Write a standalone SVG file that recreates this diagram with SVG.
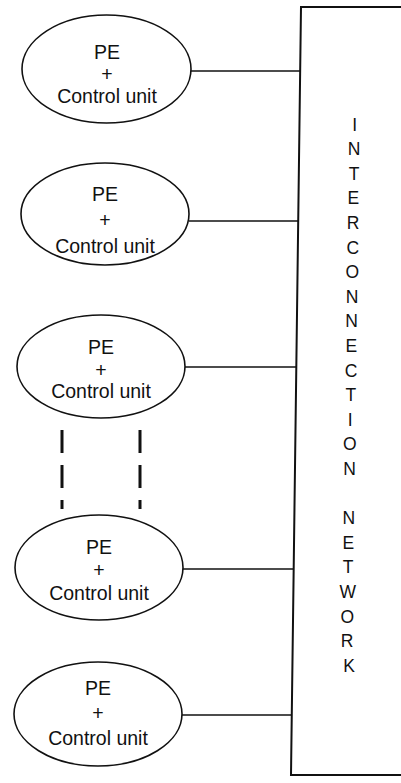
<svg xmlns="http://www.w3.org/2000/svg" width="401" height="783" viewBox="0 0 401 783">
  <style>
    .node ellipse { fill: #ffffff; stroke: #111111; stroke-width: 1.6; }
    .node text { font-family: "Liberation Sans", Arial, sans-serif; font-size: 19.5px; fill: #111111; text-anchor: middle; }
    .link { stroke: #111111; stroke-width: 1.6; fill: none; }
    .dash { stroke: #111111; stroke-width: 3; fill: none; stroke-dasharray: 23 12; }
    .net { fill: #ffffff; stroke: #111111; stroke-width: 2; }
    .netlabel { font-family: "Liberation Sans", Arial, sans-serif; font-size: 17.5px; fill: #111111; text-anchor: middle; }
  </style>
  <rect width="401" height="783" fill="#ffffff"/>

  <!-- interconnection network block (open to the right edge) -->
  <g id="network">
    <path class="net" d="M 403 7 L 301 7 L 291 775 L 403 775"/>
    <text class="netlabel">
      <tspan x="357" y="130.5">I</tspan>
      <tspan x="356.6" y="155.1">N</tspan>
      <tspan x="356.3" y="179.7">T</tspan>
      <tspan x="355.9" y="204.3">E</tspan>
      <tspan x="355.5" y="228.9">R</tspan>
      <tspan x="355.2" y="253.5">C</tspan>
      <tspan x="354.8" y="278.1">O</tspan>
      <tspan x="354.5" y="302.7">N</tspan>
      <tspan x="354.1" y="327.3">N</tspan>
      <tspan x="353.7" y="351.9">E</tspan>
      <tspan x="353.4" y="376.5">C</tspan>
      <tspan x="353" y="401.1">T</tspan>
      <tspan x="352.6" y="425.7">I</tspan>
      <tspan x="352.3" y="450.3">O</tspan>
      <tspan x="351.9" y="474.9">N</tspan>
      <tspan x="351.2" y="524.1">N</tspan>
      <tspan x="350.8" y="548.7">E</tspan>
      <tspan x="350.4" y="573.3">T</tspan>
      <tspan x="350.1" y="597.9">W</tspan>
      <tspan x="349.7" y="622.5">O</tspan>
      <tspan x="349.4" y="647.1">R</tspan>
      <tspan x="349" y="671.7">K</tspan>
    </text>
  </g>

  <!-- connectors from each unit to the network -->
  <g id="connectors">
    <line class="link" x1="191" y1="71" x2="300.2" y2="71"/>
    <line class="link" x1="189" y1="221" x2="298.2" y2="221"/>
    <line class="link" x1="185" y1="367" x2="296.3" y2="367"/>
    <line class="link" x1="183" y1="569" x2="293.7" y2="569"/>
    <line class="link" x1="182" y1="715" x2="291.8" y2="715"/>
    <!-- continuation marks between units -->
    <line class="dash" x1="62" y1="430" x2="62" y2="509"/>
    <line class="dash" x1="140" y1="430" x2="140" y2="509"/>
  </g>

  <g id="unit1" class="node">
    <ellipse cx="106.5" cy="69" rx="84.5" ry="54"/>
    <text x="107" y="59">PE</text>
    <text x="107" y="81">+</text>
    <text x="107" y="103">Control unit</text>
  </g>

  <g id="unit2" class="node">
    <ellipse cx="105" cy="214" rx="84" ry="51"/>
    <text x="105" y="201">PE</text>
    <text x="105" y="227">+</text>
    <text x="105" y="253">Control unit</text>
  </g>

  <g id="unit3" class="node">
    <ellipse cx="101" cy="366.5" rx="84" ry="51.5"/>
    <text x="101" y="354">PE</text>
    <text x="101" y="377">+</text>
    <text x="101" y="398">Control unit</text>
  </g>

  <g id="unit4" class="node">
    <ellipse cx="99" cy="567.5" rx="84" ry="52.5"/>
    <text x="99" y="554">PE</text>
    <text x="99" y="577">+</text>
    <text x="99" y="600">Control unit</text>
  </g>

  <g id="unit5" class="node">
    <ellipse cx="98" cy="714" rx="84" ry="52"/>
    <text x="98" y="695">PE</text>
    <text x="98" y="720">+</text>
    <text x="98" y="745">Control unit</text>
  </g>
</svg>
